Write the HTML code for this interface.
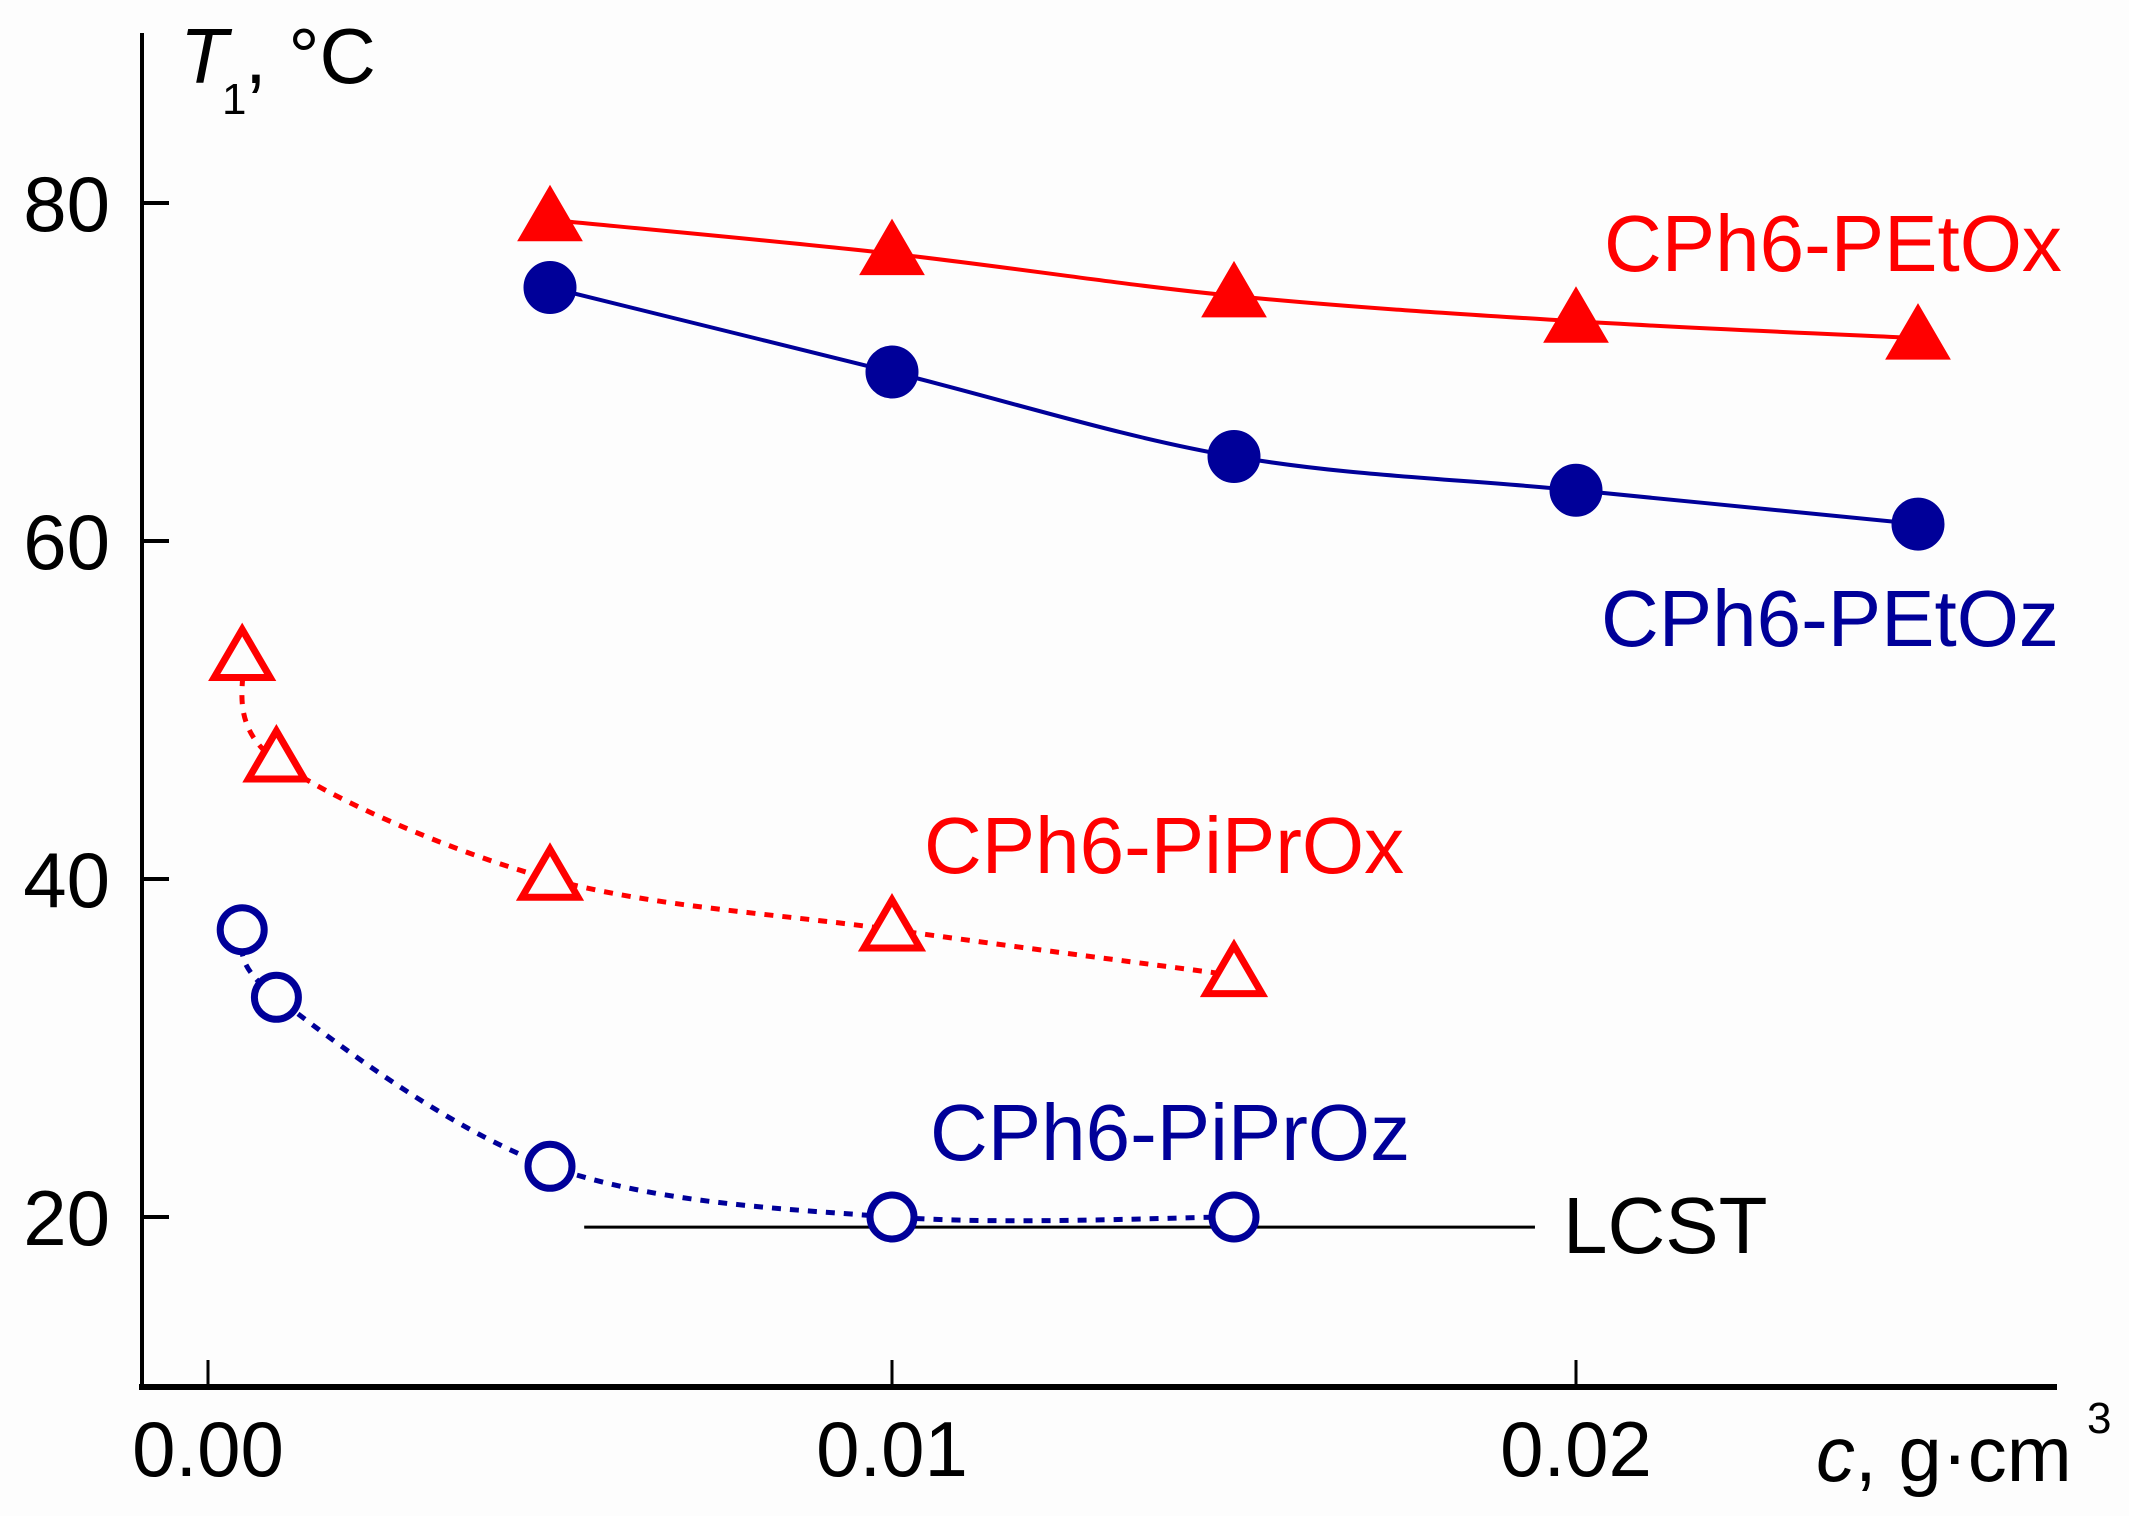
<!DOCTYPE html>
<html><head><meta charset="utf-8"><style>
html,body{margin:0;padding:0;background:#fdfdfd;}
svg{display:block;font-family:"Liberation Sans",sans-serif;}
</style></head><body>
<svg id="chart" width="2129" height="1516" viewBox="0 0 2129 1516">
<rect width="2129" height="1516" fill="#fdfdfd"/>
<g id="axes"></g>
<g id="series"></g>
<g id="labels">
<text x="180" y="83" font-size="78" font-style="italic">T</text>
<text x="222" y="114" font-size="44">1</text>
<text x="245" y="83" font-size="78">, °C</text>
<text x="1816" y="1481" font-size="78"><tspan font-style="italic">c</tspan>, g·cm</text>
<text x="2087" y="1433" font-size="44">3</text>
<text x="1604" y="271" font-size="80" fill="#ff0000">CPh6-PEtOx</text>
<text x="1601" y="646" font-size="80" fill="#000099">CPh6-PEtOz</text>
<text x="924" y="873" font-size="80" fill="#ff0000">CPh6-PiPrOx</text>
<text x="930" y="1160" font-size="80" fill="#000099">CPh6-PiPrOz</text>
<text x="1563" y="1253" font-size="80" fill="#000">LCST</text>
</g>
</svg>
<script>
const xTicks=[0,0.01,0.02];
const xTickLabels=["0.00","0.01","0.02"];
const yTicks=[20,40,60,80];
const yTickLabels=["20","40","60","80"];
const cPEtOx=[0.005,0.01,0.015,0.02,0.025];
const tPEtOx=[79,77,74.5,73,72];
const cPEtOz=[0.005,0.01,0.015,0.02,0.025];
const tPEtOz=[75,70,65,63,61];
const cPiPrOx=[0.0005,0.001,0.005,0.01,0.015];
const tPiPrOx=[53,47,40,37,34.3];
const cPiPrOz=[0.0005,0.001,0.005,0.01,0.015];
const tPiPrOz=[37,33,23,20,20];
const lcstRange=[0.0055,0.0194];
const lcstValue=19.4;

const NS="http://www.w3.org/2000/svg";
const X=c=>208+c*68400;
const Y=t=>1555-t*16.9;
function mk(tag,attrs,parent){const e=document.createElementNS(NS,tag);for(const k in attrs)e.setAttribute(k,attrs[k]);parent.appendChild(e);return e;}
const axes=document.getElementById('axes'), ser=document.getElementById('series');

let e=mk('line',{x1:142,y1:33,x2:142,y2:1389,stroke:'#000','stroke-width':4},axes);


e=mk('line',{x1:139,y1:1387,x2:2057,y2:1387,stroke:'#000','stroke-width':6},axes);


xTicks.forEach((v,i)=>{
 let t=mk('line',{x1:X(v),y1:1360,x2:X(v),y2:1387,stroke:'#000','stroke-width':3},axes);
 
 
 let l=mk('text',{x:X(v),y:1476,'font-size':78,'text-anchor':'middle'},axes);
 l.textContent=xTickLabels[i];
 
 
});
yTicks.forEach((v,i)=>{
 let t=mk('line',{x1:142,y1:Y(v),x2:169,y2:Y(v),stroke:'#000','stroke-width':4},axes);
 
 
 let l=mk('text',{x:110,y:Y(v)+28,'font-size':78,'text-anchor':'end'},axes);
 l.textContent=yTickLabels[i];
 
 
});
// LCST line
e=mk('line',{x1:X(lcstRange[0]),y1:Y(lcstValue),x2:X(lcstRange[1]),y2:Y(lcstValue),stroke:'#000','stroke-width':3},ser);



function smooth(cs,ts){
 const p=cs.map((c,i)=>[X(c),Y(ts[i])]);
 let d=`M${p[0][0]},${p[0][1]}`;
 for(let i=0;i<p.length-1;i++){
  const p0=p[i-1]||p[i],p1=p[i],p2=p[i+1],p3=p[i+2]||p2;
  const c1=[p1[0]+(p2[0]-p0[0])/6,p1[1]+(p2[1]-p0[1])/6];
  const c2=[p2[0]-(p3[0]-p1[0])/6,p2[1]-(p3[1]-p1[1])/6];
  d+=` C${c1[0]},${c1[1]} ${c2[0]},${c2[1]} ${p2[0]},${p2[1]}`;
 }
 return d;
}
function series(name,cs,ts,color,dash,marker,filled){
 const g=mk('g',{},ser);
 
 
 const ln=mk('path',{d:smooth(cs,ts),fill:'none',stroke:color,'stroke-width':dash?5:4,'stroke-dasharray':dash?'9 9':'none'},g);
 
 
 cs.forEach((c,i)=>{
  const x=X(c),y=Y(ts[i]);let m;
  if(marker==='tri'){
   const w=filled?64:56,h=filled?55:48;
   m=mk('polygon',{points:`${x},${y-h*0.62} ${x-w/2},${y+h*0.38} ${x+w/2},${y+h*0.38}`,fill:filled?color:'#fdfdfd',stroke:color,'stroke-width':filled?1:7,'stroke-linejoin':'miter'},g);
  }else{
   m=mk('circle',{cx:x,cy:y,r:filled?26:22,fill:filled?color:'#fdfdfd',stroke:color,'stroke-width':filled?1:7},g);
  }
  
  
 });
}
series('series-cph6-petox',cPEtOx,tPEtOx,'#ff0000',false,'tri',true);
series('series-cph6-petoz',cPEtOz,tPEtOz,'#000099',false,'circ',true);
series('series-cph6-piprox',cPiPrOx,tPiPrOx,'#ff0000',true,'tri',false);
series('series-cph6-piproz',cPiPrOz,tPiPrOz,'#000099',true,'circ',false);
</script>
</body></html>
